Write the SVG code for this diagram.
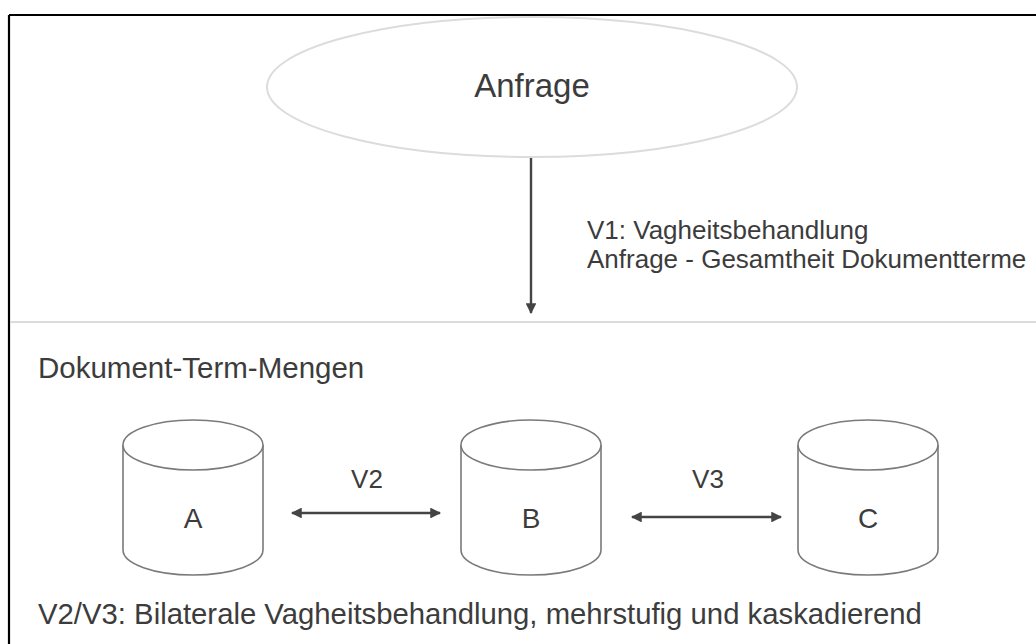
<svg xmlns="http://www.w3.org/2000/svg" width="1036" height="644" viewBox="0 0 1036 644">
<defs>
<style>
.t{font-family:"Liberation Sans",Arial,sans-serif;fill:#3c3c3c;}
.cyl{fill:#fff;stroke:#7a7a7a;stroke-width:1.6;}
.con{stroke:#444;stroke-width:2.4;fill:none;}
</style>
<marker id="ah" viewBox="0 0 10 10" refX="9" refY="5" markerWidth="5" markerHeight="4.5" orient="auto-start-reverse" markerUnits="strokeWidth">
<path d="M0,0 L10,5 L0,10 z" fill="#444"/>
</marker>
</defs>
<rect width="1036" height="644" fill="#fff"/>
<g id="frame">
<line x1="9" y1="15" x2="1036" y2="15" stroke="#000" stroke-width="2.2"/>
<line x1="9" y1="15" x2="9" y2="644" stroke="#000" stroke-width="2.2"/>
<line x1="10" y1="322" x2="1036" y2="322" stroke="#dcdcdc" stroke-width="2"/>
</g>
<g id="anfrage">
<ellipse cx="532" cy="87" rx="265" ry="70" fill="#fff" stroke="#dcdcdc" stroke-width="2"/>
<text class="t" x="532" y="97" font-size="33" text-anchor="middle">Anfrage</text>
</g>
<g id="connectors">
<line class="con" x1="531" y1="158" x2="531" y2="313" stroke-width="2" marker-end="url(#ah)"/>
<line class="con" x1="292" y1="513" x2="440" y2="513" marker-start="url(#ah)" marker-end="url(#ah)"/>
<line class="con" x1="632" y1="517" x2="781" y2="517" marker-start="url(#ah)" marker-end="url(#ah)"/>
</g>
<g id="labels">
<text class="t" x="587" y="239" font-size="26">V1: Vagheitsbehandlung</text>
<text class="t" x="587" y="268" font-size="26">Anfrage - Gesamtheit Dokumentterme</text>
<text class="t" x="367" y="488" font-size="26" text-anchor="middle">V2</text>
<text class="t" x="708" y="488" font-size="26" text-anchor="middle">V3</text>
<text class="t" x="38" y="378" font-size="29.5">Dokument-Term-Mengen</text>
<text class="t" x="38" y="624" font-size="29.3">V2/V3: Bilaterale Vagheitsbehandlung, mehrstufig und kaskadierend</text>
</g>
<g id="cylA">
<path class="cyl" d="M123,445 L123,550 A70,25 0 0 0 263,550 L263,445"/>
<ellipse class="cyl" cx="193" cy="445" rx="70" ry="25"/>
<text class="t" x="193" y="528" font-size="28" text-anchor="middle">A</text>
</g>
<g id="cylB">
<path class="cyl" d="M461,445 L461,550 A70,25 0 0 0 601,550 L601,445"/>
<ellipse class="cyl" cx="531" cy="445" rx="70" ry="25"/>
<text class="t" x="531" y="528" font-size="28" text-anchor="middle">B</text>
</g>
<g id="cylC">
<path class="cyl" d="M798,445 L798,550 A70,25 0 0 0 938,550 L938,445"/>
<ellipse class="cyl" cx="868" cy="445" rx="70" ry="25"/>
<text class="t" x="868" y="528" font-size="28" text-anchor="middle">C</text>
</g>
</svg>
